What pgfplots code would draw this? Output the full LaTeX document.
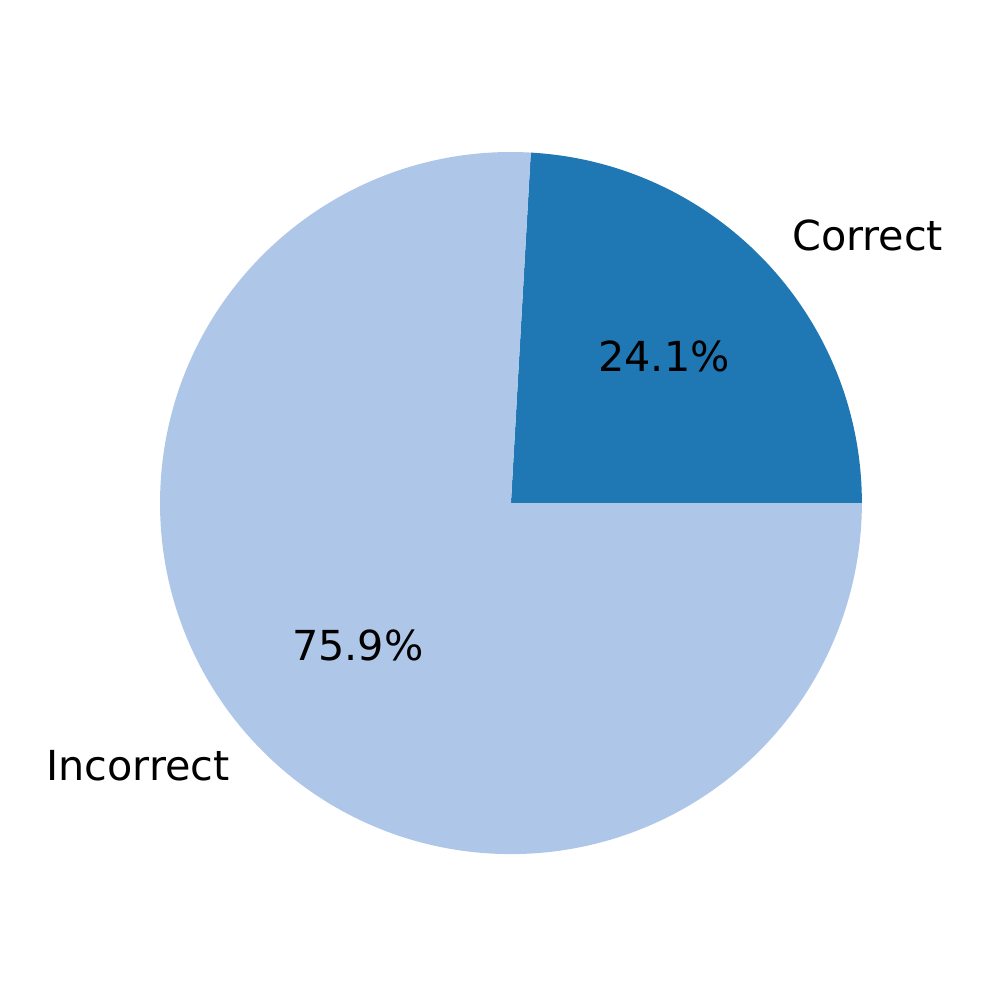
\documentclass[border=0pt]{standalone}
\usepackage{pgfplots}
\pgfplotsset{compat=1.18}
\usepackage{pgfplotstable}
\usepackage{fontspec}
\setmainfont{DejaVu Sans}
\definecolor{tabblue}{HTML}{1F77B4}
\definecolor{tablight}{HTML}{AEC7E8}

% share of answers, in percent
\pgfplotstableread{
label      value
Correct    24.1
Incorrect  75.9
}\piedata

\begin{document}
\begin{tikzpicture}
\pgfplotstablegetelem{0}{value}\of\piedata\let\va\pgfplotsretval
\pgfplotstablegetelem{1}{value}\of\piedata\let\vb\pgfplotsretval
\pgfmathsetmacro{\aend}{3.6*\va}
\pgfmathsetmacro{\amidA}{\aend/2}
\pgfmathsetmacro{\amidB}{\aend+3.6*\vb/2}
\begin{axis}[
    scale only axis,
    width=10cm, height=10cm,
    hide axis,
    clip=false,
    xmin=-1.456, xmax=1.385,
    ymin=-1.407, ymax=1.433,
    font=\fontsize{11.8}{14}\selectfont,
  ]
  \path (rel axis cs:0,0) rectangle (rel axis cs:1,1);
  % Correct
  \fill[tabblue] (axis cs:0,0) -- (axis cs:1,0)
    arc[start angle=0, end angle=\aend, radius=1] -- cycle;
  % Incorrect
  \fill[tablight] (axis cs:0,0) -- (axis cs:{cos(\aend)},{sin(\aend)})
    arc[start angle=\aend, end angle=360, radius=1] -- cycle;
  % labels
  \begin{scope}[every node/.style={yshift=0.7pt}]
  \node[anchor=west, inner sep=0pt] at (axis cs:{1.1*cos(\amidA)},{1.1*sin(\amidA)}) {Correct};
  \node[anchor=east, inner sep=0pt] at (axis cs:{1.1*cos(\amidB)},{1.1*sin(\amidB)}) {Incorrect};
  \node at (axis cs:{0.6*cos(\amidA)},{0.6*sin(\amidA)}) {\va\%};
  \node at (axis cs:{0.6*cos(\amidB)},{0.6*sin(\amidB)}) {\vb\%};
  \end{scope}
\end{axis}
\end{tikzpicture}
\end{document}
